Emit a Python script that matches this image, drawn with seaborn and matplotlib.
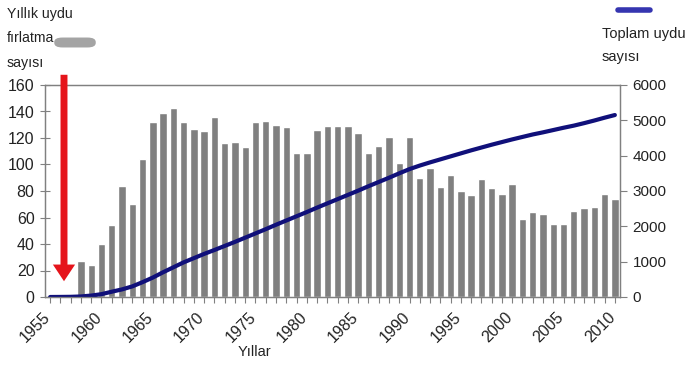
import numpy as np
import pandas as pd
import matplotlib
matplotlib.use('Agg')
import matplotlib.pyplot as plt
import matplotlib.transforms as mtransforms
from matplotlib.patches import FancyBboxPatch, FancyArrowPatch
import seaborn as sns

# yearly launches (bars), 1958-2010
bar_years = list(range(1958, 2011))
launches = [27, 24, 40, 54, 84, 70, 104, 132, 139, 143, 132, 127, 125, 136,
            116, 117, 113, 132, 133, 130, 128, 109, 109, 126, 129, 129, 129,
            124, 109, 114, 121, 101, 121, 90, 97, 83, 92, 80, 77, 89, 82, 78,
            85, 59, 64, 63, 55, 55, 65, 67, 68, 78, 74]

# total satellites (line), 1955-2010
line_years = list(range(1955, 2011))
total = [0, 2, 5, 15, 40, 80, 150, 215, 300, 420, 550, 700, 840, 980, 1100,
         1220, 1330, 1445, 1560, 1680, 1800, 1920, 2045, 2165, 2285, 2405,
         2530, 2650, 2770, 2890, 3010, 3135, 3255, 3375, 3500, 3620, 3720,
         3810, 3895, 3980, 4065, 4150, 4230, 4310, 4385, 4460, 4530, 4600,
         4660, 4725, 4790, 4850, 4920, 4995, 5075, 5150]

year_ticks = list(range(1955, 2011, 5))

sns.set_style('white')
plt.rcParams['font.family'] = ['Liberation Sans', 'DejaVu Sans']

fig = plt.figure(figsize=(6.88, 3.69), dpi=100)
ax = fig.add_axes([45/688, 1-297/369, 575/688, 212/369])

bars = pd.DataFrame({'year': bar_years, 'launches': launches})
sns.barplot(data=bars, x='year', y='launches', native_scale=True, width=0.72,
            color='#808080', saturation=1, ax=ax)

ax2 = ax.twinx()
lines = pd.DataFrame({'year': line_years, 'total': total})
sns.lineplot(data=lines, x='year', y='total', color='#10107a', linewidth=3,
             ax=ax2)

ax.set_xlim(1954.5, 2010.5)
ax.set_ylim(0, 160)
ax.set_yticks(range(0, 161, 20))
ax.set_xticks(year_ticks)
ax.set_xticks(range(1955, 2011), minor=True)
ax.set_xlabel('')
ax.set_ylabel('')
ax.tick_params(axis='y', which='major', direction='inout', length=7, width=0.8,
               color='#808080', labelsize=11.5, labelcolor='#222222', pad=4)
ax.tick_params(axis='x', which='both', direction='out', length=4, width=0.8,
               color='#808080', labelsize=11.5, labelcolor='#222222', pad=4,
               bottom=True)
ax.set_xticklabels([str(y) for y in year_ticks], rotation=45, ha='right',
                   rotation_mode='anchor')
for s in ax.spines.values():
    s.set_color('#808080')
    s.set_linewidth(0.9)

ax2.set_ylim(0, 6000)
ax2.set_yticks(range(0, 6001, 1000))
ax2.set_ylabel('')
ax2.set_xlim(1954.5, 2010.5)
ax2.tick_params(axis='y', direction='out', length=5, width=0.8, color='#808080',
                labelsize=11, labelcolor='#222222', pad=4, right=True)
for s in ax2.spines.values():
    s.set_color('#808080')
    s.set_linewidth(0.9)

# nudge the rotated year labels left, like the reference
shift = mtransforms.ScaledTranslation(-0.075, -0.015, fig.dpi_scale_trans)
for tick in ax.xaxis.get_major_ticks():
    tick.label1.set_transform(tick.label1.get_transform() + shift)

# texts
fig.text(7/688, 1-7/369, 'Yıllık uydu\nfırlatma\nsayısı', ha='left', va='top',
         fontsize=10.2, color='#222222', linespacing=1.95)
fig.text(602/688, 1-27/369, 'Toplam uydu\nsayısı', ha='left', va='top',
         fontsize=10.5, color='#222222', linespacing=1.8)
fig.text(254/688, 1-352/369, 'Yıllar', ha='center', va='center',
         fontsize=10.5, color='#222222')

# legend swatch for the line
fig.add_artist(plt.Line2D([618/688, 650/688], [1-10/369, 1-10/369],
                          color='#3535b0', linewidth=4, solid_capstyle='round',
                          transform=fig.transFigure))

# blurred grey blob next to "fırlatma"
fig.add_artist(FancyBboxPatch((57/688, 1-46/369), 36/688, 7/369,
                              boxstyle='round,pad=0.004,rounding_size=0.012',
                              transform=fig.transFigure, facecolor='#8e8e8e',
                              edgecolor='none', alpha=0.8))

# red arrow
fig.add_artist(FancyArrowPatch(
    (64/688, 1-72/369), (64/688, 1-284/369), transform=fig.transFigure,
    arrowstyle='simple,head_length=1.2,head_width=1.6,tail_width=0.5',
    mutation_scale=10, color='#e5141b', linewidth=0))

fig.savefig('out.png', dpi=100)
